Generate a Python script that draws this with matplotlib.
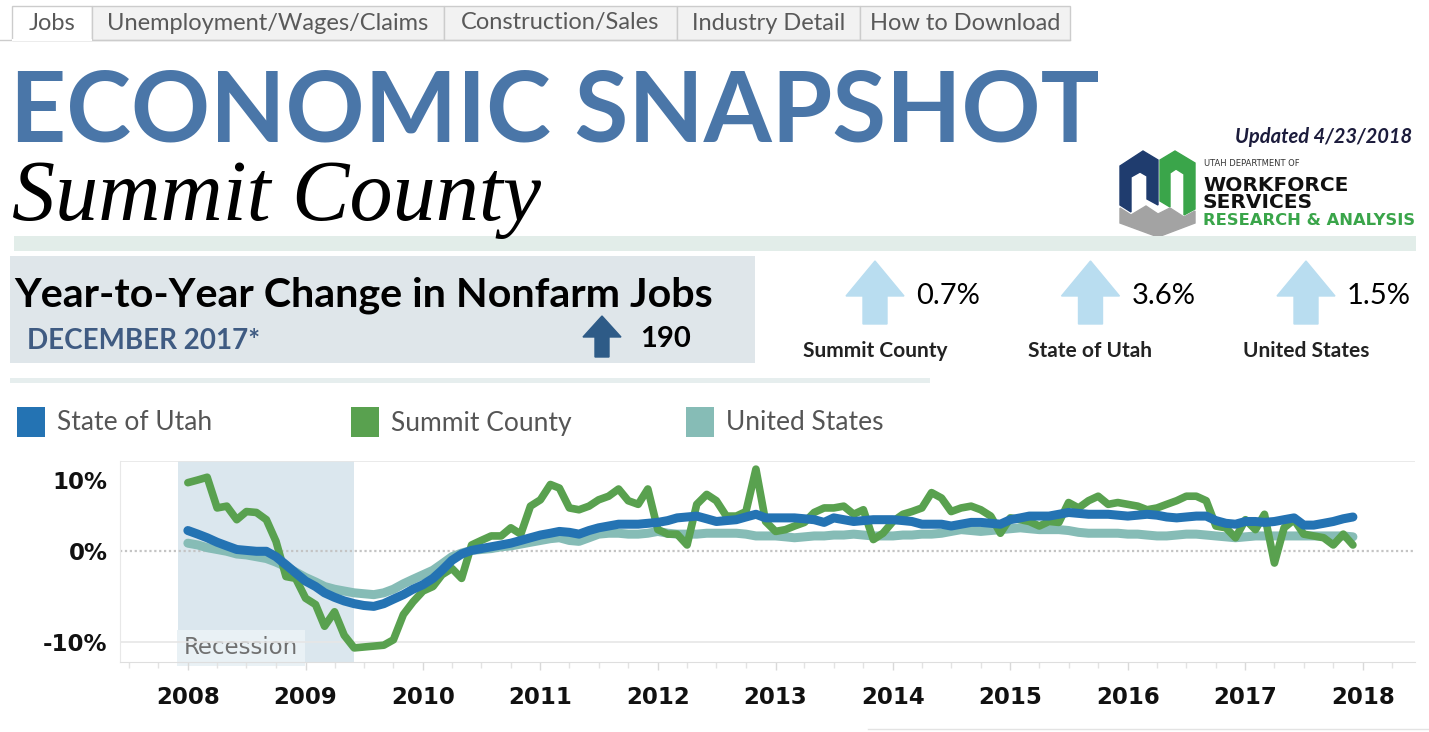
import pandas as pd
import matplotlib
matplotlib.use('Agg')
import matplotlib.pyplot as plt
import matplotlib.dates as mdates
from matplotlib.patches import Rectangle, Polygon
from matplotlib.transforms import ScaledTranslation

# Year-to-year change in nonfarm jobs (%), monthly Jan 2008 - Dec 2017
months = pd.date_range('2008-01-01', periods=120, freq='MS')

summit = [
    7.6, 7.9, 8.2, 4.8, 5.0, 3.5, 4.4, 4.3, 3.5, 1.1, -2.8, -3.0,
    -5.2, -5.9, -8.3, -6.7, -9.3, -10.7, -10.6, -10.5, -10.4, -9.8, -7.0, -5.6,
    -4.4, -3.9, -2.6, -1.9, -3.0, 0.7, 1.2, 1.7, 1.7, 2.6, 1.9, 5.0,
    5.7, 7.4, 7.0, 4.8, 4.6, 5.0, 5.7, 6.1, 6.9, 5.6, 5.2, 6.9,
    2.4, 1.9, 1.9, 0.7, 5.2, 6.3, 5.6, 3.9, 3.9, 4.4, 9.1, 3.3,
    2.2, 2.4, 2.8, 3.2, 4.3, 4.8, 4.8, 5.0, 4.1, 4.6, 1.3, 2.0,
    3.3, 4.1, 4.4, 4.8, 6.5, 5.9, 4.4, 4.8, 5.0, 4.6, 3.9, 2.0,
    3.7, 3.5, 3.3, 2.8, 3.3, 3.2, 5.4, 4.8, 5.6, 6.1, 5.2, 5.4,
    5.2, 5.0, 4.6, 4.8, 5.2, 5.6, 6.1, 6.1, 5.6, 2.8, 2.6, 1.5,
    3.5, 2.4, 4.1, -1.3, 2.6, 3.5, 1.9, 1.7, 1.5, 0.7, 1.9, 0.7,
]

utah = [
    2.3, 1.9, 1.5, 1.0, 0.6, 0.2, 0.1, 0.0, 0.0, -0.6, -1.5, -2.4,
    -3.3, -3.9, -4.6, -5.1, -5.5, -5.8, -6.0, -6.1, -5.8, -5.3, -4.8, -4.2,
    -3.7, -3.0, -2.1, -1.0, -0.3, 0.1, 0.3, 0.5, 0.7, 0.9, 1.2, 1.5,
    1.8, 2.0, 2.2, 2.1, 1.9, 2.3, 2.6, 2.8, 3.0, 3.0, 3.0, 3.1,
    3.2, 3.4, 3.7, 3.8, 3.9, 3.6, 3.3, 3.4, 3.5, 3.8, 4.1, 3.7,
    3.7, 3.7, 3.7, 3.6, 3.5, 3.2, 3.7, 3.5, 3.3, 3.4, 3.5, 3.5,
    3.5, 3.4, 3.3, 3.0, 3.0, 3.0, 2.8, 3.0, 3.2, 3.2, 3.1, 3.0,
    3.5, 3.7, 3.9, 3.9, 3.9, 4.1, 4.3, 4.2, 4.1, 4.1, 4.1, 4.0,
    3.9, 4.0, 4.1, 4.0, 3.8, 3.7, 3.8, 3.9, 3.9, 3.4, 3.1, 3.0,
    3.3, 3.3, 3.2, 3.3, 3.5, 3.7, 2.9, 2.9, 3.1, 3.3, 3.6, 3.8,
]

us = [
    0.9, 0.7, 0.4, 0.2, 0.0, -0.3, -0.4, -0.6, -0.8, -1.2, -1.7, -2.3,
    -2.9, -3.4, -3.9, -4.2, -4.4, -4.6, -4.7, -4.8, -4.6, -4.2, -3.6, -3.1,
    -2.6, -2.1, -1.4, -0.6, -0.2, 0.1, 0.2, 0.3, 0.5, 0.6, 0.8, 1.0,
    1.2, 1.4, 1.5, 1.2, 1.1, 1.5, 1.9, 2.0, 2.0, 1.9, 1.9, 2.0,
    2.2, 2.0, 1.9, 1.9, 1.9, 2.0, 2.0, 2.0, 2.0, 1.9, 1.7, 1.7,
    1.7, 1.6, 1.5, 1.6, 1.7, 1.7, 1.8, 1.8, 1.9, 1.8, 1.7, 1.7,
    1.7, 1.8, 1.8, 1.9, 1.9, 2.0, 2.2, 2.4, 2.3, 2.2, 2.3, 2.4,
    2.5, 2.6, 2.5, 2.4, 2.4, 2.4, 2.3, 2.1, 2.0, 2.0, 2.0, 2.0,
    1.9, 1.9, 1.8, 1.7, 1.7, 1.8, 1.9, 1.9, 1.8, 1.7, 1.6, 1.5,
    1.6, 1.7, 1.7, 1.7, 1.7, 1.7, 1.7, 1.7, 1.7, 1.7, 1.7, 1.6,
]

series_names = ['State of Utah', 'Summit County', 'United States']
series_colors = ['#2473b3', '#59a14f', '#86bcb6']

tabs = ['Jobs', 'Unemployment/Wages/Claims', 'Construction/Sales', 'Industry Detail', 'How to Download']
tab_edges = [12, 92, 444, 677, 860, 1070]

headline_labels = ['Summit County', 'State of Utah', 'United States']
headline_values = [0.7, 3.6, 1.5]
job_change = 190

y_ticks = [10, 0, -10]
recession = (pd.Timestamp('2007-12-01'), pd.Timestamp('2009-06-01'))

# whole figure laid out in pixel coords through a background axes
W, H = 1429, 732
fig = plt.figure(figsize=(W / 100, H / 100), dpi=100)
bg = fig.add_axes([0, 0, 1, 1])
bg.set_xlim(0, W)
bg.set_ylim(H, 0)
bg.axis('off')

# tab strip
bg.plot([0, 1070], [40, 40], color='#cccccc', lw=1)
for i, name in enumerate(tabs):
    x0, x1 = tab_edges[i], tab_edges[i + 1]
    face = 'white' if i == 0 else '#f2f2f2'
    bg.add_patch(Rectangle((x0, 6), x1 - x0, 34, facecolor=face, edgecolor='#cccccc', lw=1))
    bg.text((x0 + x1) / 2, 23, name, ha='center', va='center', fontsize=17, color='#595959', family='Lato')
bg.plot([13, 91], [40, 40], color='white', lw=1.5)

# header
bg.text(10, 142, 'ECONOMIC SNAPSHOT', fontsize=70.5, fontweight='bold', color='#4a76a8',
        family='Lato', va='baseline')
bg.text(12, 220, 'Summit County', fontsize=62, style='italic', color='black',
        family='Liberation Serif', va='baseline')
bg.text(1412, 137, 'Updated 4/23/2018', ha='right', va='center', fontsize=14.5, style='italic',
        fontweight='bold', color='#1c1c3c', family='Lato')

# DWS logo
bg.add_patch(Polygon([(1120, 166), (1143, 151), (1158, 160), (1158, 205), (1147, 199), (1147, 176),
                      (1140, 172), (1131, 177), (1131, 212), (1120, 205)], color='#1f3c6e'))
bg.add_patch(Polygon([(1160, 160), (1175, 151), (1195, 163), (1195, 209), (1184, 215), (1184, 174),
                      (1176, 169), (1170, 173), (1170, 207), (1160, 201)], color='#3aa54a'))
bg.add_patch(Polygon([(1120, 208), (1131, 215), (1146, 206), (1158, 214), (1170, 208), (1184, 217),
                      (1195, 211), (1195, 223), (1158, 237), (1120, 223)], color='#a3a3a3'))
bg.text(1204, 164, 'UTAH DEPARTMENT OF', fontsize=6, color='#333333', va='center')
bg.text(1203, 191, 'WORKFORCE', fontsize=14.5, fontweight='bold', color='#111111', va='baseline')
bg.text(1203, 208, 'SERVICES', fontsize=14.5, fontweight='bold', color='#111111', va='baseline')
bg.text(1203, 225, 'RESEARCH & ANALYSIS', fontsize=11.8, fontweight='bold', color='#3aa54a', va='baseline')

bg.add_patch(Rectangle((14, 236), 1402, 15, color='#e2ede9', lw=0))

# nonfarm jobs panel
bg.add_patch(Rectangle((10, 256), 745, 107, color='#dfe6ea', lw=0))
bg.text(14, 306, 'Year-to-Year Change in Nonfarm Jobs', fontsize=29.7, fontweight='bold',
        family='Lato', va='baseline')
bg.text(27, 349, 'DECEMBER 2017*', fontsize=20, fontweight='bold', color='#3f5b82',
        family='Lato', va='baseline')
bg.add_patch(Polygon([(602, 316), (583, 337), (595, 337), (595, 357), (609, 357), (609, 337), (621, 337)],
                     color='#2e5b87'))
bg.text(640, 339, str(job_change), fontsize=21, fontweight='bold', family='Lato', va='center')
bg.add_patch(Rectangle((10, 378), 920, 5, color='#e6eeee', lw=0))

for i, (name, val) in enumerate(zip(headline_labels, headline_values)):
    cx = 875 + 215.5 * i
    bg.add_patch(Polygon([(cx, 261), (cx - 29, 296), (cx - 12, 296), (cx - 12, 324), (cx + 12, 324),
                          (cx + 12, 296), (cx + 29, 296)], color='#b9ddf0'))
    bg.text(cx + 41, 296, f'{val}%', fontsize=21, family='Lato', va='center')
    bg.text(cx, 351, name, fontsize=15, fontweight='bold', family='Lato', ha='center', va='center',
            color='#222222')

# legend
for i, (name, color) in enumerate(zip(series_names, series_colors)):
    x = 17 + 334.5 * i
    bg.add_patch(Rectangle((x, 407), 28, 30, color=color, lw=0))
    bg.text(x + 40, 423, name, fontsize=19, color='#555555', family='Lato', va='center')

bg.plot([868, 1429], [729, 729], color='#e3e3e3', lw=1)

# chart
ax = fig.add_axes([120 / W, 1 - 662 / H, 1295 / W, 201 / H])
ax.axvspan(recession[0], recession[1], color='#dbe7ee', lw=0, zorder=0)
ax.text(pd.Timestamp('2007-12-19'), -10.7, 'Recession', fontsize=16.5, color='#707070', va='center',
        bbox=dict(boxstyle='square,pad=0.3', fc='#e9f1f5', ec='none'), zorder=1)
ax.axhline(10, color='#e6e6e6', lw=1.2, zorder=1)
ax.axhline(-10, color='#e6e6e6', lw=1.2, zorder=1)
ax.axhline(0, color='#c4c4c4', lw=1.6, ls=(0, (1, 1.2)), zorder=1)

ax.plot(months, us, color=series_colors[2], lw=6.5, solid_capstyle='round', solid_joinstyle='round', zorder=3)
ax.plot(months, summit, color=series_colors[1], lw=5.5, solid_capstyle='round', solid_joinstyle='round', zorder=4)
ax.plot(months, utah, color=series_colors[0], lw=6.5, solid_capstyle='round', solid_joinstyle='round', zorder=5)

ax.set_xlim(pd.Timestamp('2007-06-04'), pd.Timestamp('2018-06-12'))
ax.set_ylim(-12.26, 10)
ax.xaxis.set_major_locator(mdates.YearLocator())
ax.xaxis.set_major_formatter(mdates.DateFormatter('%Y'))
ax.xaxis.set_minor_locator(mdates.MonthLocator(bymonth=[4, 7, 10]))
ax.set_yticks(y_ticks)
ax.set_yticklabels([f'{v}%' for v in y_ticks])

ax.tick_params(axis='x', which='major', length=6, width=1, color='#d9d9d9', pad=11, labelsize=16.5)
ax.tick_params(axis='x', which='minor', length=4, width=1, color='#e3e3e3')
ax.tick_params(axis='y', length=0, pad=9, labelsize=16.5)
for lab in ax.get_xticklabels() + ax.get_yticklabels():
    lab.set_fontweight('bold')
    lab.set_color('#111111')
# the top value label sits inside the plot, as in the dashboard
top = ax.yaxis.get_major_ticks()[0].label1
top.set_transform(top.get_transform() + ScaledTranslation(0, -0.19, fig.dpi_scale_trans))

for side in ['top', 'right']:
    ax.spines[side].set_visible(False)
ax.spines['left'].set_color('#e8e8e8')
ax.spines['bottom'].set_color('#dedede')

fig.savefig('out.png', dpi=100)
